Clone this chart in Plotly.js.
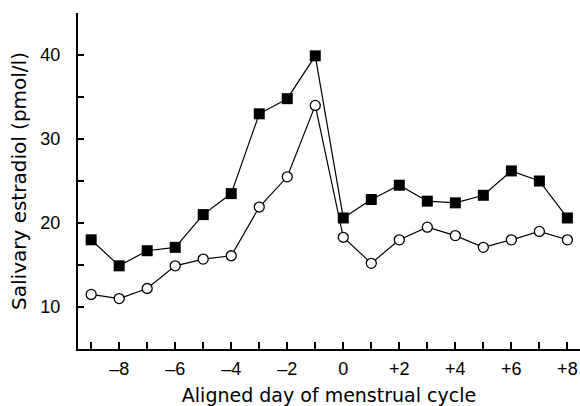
<!DOCTYPE html>
<html>
<head>
<meta charset="utf-8">
<script src="https://cdn.plot.ly/plotly-3.0.1.min.js"></script>
<style>html,body{margin:0;padding:0;background:#fff;}</style>
</head>
<body>
<div id="chart" style="width:580px;height:406px;"></div>
<script>
const days = [-9,-8,-7,-6,-5,-4,-3,-2,-1,0,1,2,3,4,5,6,7,8];
const seriesSquares = [18, 14.9, 16.7, 17.1, 21, 23.5, 33, 34.8, 39.9, 20.6, 22.8, 24.5, 22.6, 22.4, 23.3, 26.2, 25, 20.6];
const seriesCircles = [11.5, 11, 12.2, 14.9, 15.7, 16.1, 21.9, 25.5, 34, 18.3, 15.2, 18, 19.5, 18.5, 17.1, 18, 19, 18];
const xTickVals = [-9,-8,-7,-6,-5,-4,-3,-2,-1,0,1,2,3,4,5,6,7,8];
const xTickText = ["","–8","","–6","","–4","","–2","","0","","+2","","+4","","+6","","+8"];
const yTickVals = [10,15,20,25,30,35,40];
const yTickText = ["10","","20","","30","","40"];

const traces = [
  {x: days, y: seriesSquares, mode: 'lines+markers', type: 'scatter',
   line: {color: '#000', width: 1.2},
   marker: {symbol: 'square', size: 11, color: '#000'}},
  {x: days, y: seriesCircles, mode: 'lines+markers', type: 'scatter',
   line: {color: '#000', width: 1.2},
   marker: {symbol: 'circle', size: 10, color: '#fff', line: {color: '#000', width: 1.3}}}
];

const layout = {
  width: 580, height: 406,
  margin: {l: 78, r: 0, t: 13, b: 57},
  paper_bgcolor: '#fff', plot_bgcolor: '#fff',
  showlegend: false,
  font: {family: 'Liberation Sans, Arial, sans-serif', color: '#000', size: 18},
  xaxis: {
    range: [-9.47, 8.45], showgrid: false, zeroline: false,
    showline: true, linecolor: '#000', linewidth: 2,
    ticks: 'inside', ticklen: 7, tickwidth: 2, tickcolor: '#000',
    tickvals: xTickVals, ticktext: xTickText, ticklabelstandoff: 2,
    tickfont: {size: 18},
    title: {text: 'Aligned day of menstrual cycle', font: {family: 'DejaVu Sans, sans-serif', size: 19}, standoff: 12}
  },
  yaxis: {
    range: [5, 45], showgrid: false, zeroline: false,
    showline: true, linecolor: '#000', linewidth: 2,
    ticks: 'inside', ticklen: 6, tickwidth: 1.5, tickcolor: '#000',
    tickvals: yTickVals, ticktext: yTickText, ticklabelstandoff: 12,
    tickfont: {size: 18},
    title: {text: 'Salivary estradiol (pmol/l)', font: {family: 'DejaVu Sans, sans-serif', size: 20}, standoff: 8}
  }
};

Plotly.newPlot('chart', traces, layout, {displayModeBar: false, staticPlot: true});
</script>
</body>
</html>
